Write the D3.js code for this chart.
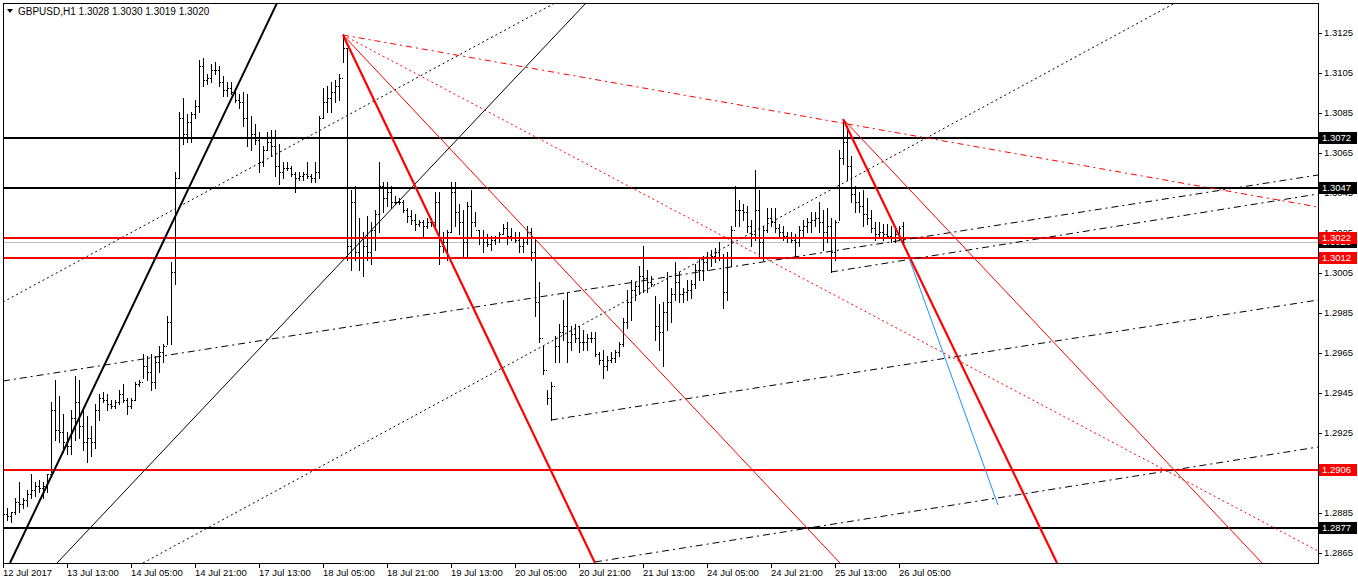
<!DOCTYPE html>
<html><head><meta charset="utf-8">
<script src="https://cdn.jsdelivr.net/npm/d3@7"></script>
<style>
body{margin:0;background:#fff;}
svg{display:block;}
text{font-family:"Liberation Sans",Arial,sans-serif;font-size:9.5px;fill:#000;}
</style>
</head><body>
<svg id="c" width="1358" height="584"></svg>
<script>
// ---------------- DATA ----------------
const symbol = "GBPUSD,H1";
// H1 bars, prices in 1e-4 units (e.g. 13028 = 1.3028)
const highs = [
12898,12887,12885,12892,12900,12892,12896,12904,12900,12901,
12900,12904,12940,12951,12943,12934,12925,12936,12953,12951,
12936,12933,12928,12939,12944,12945,12944,12941,12941,12946,
12949,12942,12942,12950,12951,12964,12963,12964,12963,12968,
12969,12983,13010,13055,13085,13092,13084,13085,13091,13111,
13112,13104,13109,13110,13108,13103,13100,13100,13097,13094,
13095,13094,13083,13079,13075,13068,13075,13076,13076,13069,
13060,13060,13058,13055,13055,13055,13060,13054,13060,13083,
13097,13098,13100,13101,13104,13124,13117,13046,13048,13032,
13025,13033,13030,13036,13060,13050,13050,13048,13043,13042,
13041,13037,13036,13034,13031,13031,13032,13032,13045,13045,
13025,13026,13050,13050,13039,13036,13040,13046,13035,13026,
13026,13024,13023,13023,13025,13029,13030,13027,13025,13025,
13022,13028,13027,13021,13000,12968,12946,12950,12973,12979,
12991,12995,12978,12979,12978,12976,12974,12975,12975,12965,
12966,12963,12965,12966,12970,12982,12996,13001,13000,13008,
13018,13006,13003,12993,12989,12990,13005,12997,13010,13005,
12997,13001,13001,13009,13012,13013,13015,13016,13017,13020,
13014,13015,13028,13048,13041,13039,13038,13031,13056,13046,
13028,13037,13037,13037,13029,13028,13025,13025,13024,13028,
13031,13032,13035,13035,13040,13036,13037,13032,13031,13066,
13081,13078,13063,13048,13045,13046,13042,13036,13030,13030,
13029,13029,13028,13028,13028,13030];
const lows = [
12877,12881,12880,12884,12885,12887,12888,12892,12893,12895,
12892,12895,12905,12921,12920,12915,12914,12914,12921,12922,
12916,12910,12913,12917,12931,12940,12936,12937,12937,12939,
12940,12934,12937,12941,12948,12952,12951,12946,12947,12955,
12960,12969,12969,12999,13052,13069,13070,13070,13082,13085,
13098,13099,13100,13104,13098,13093,13093,13094,13090,13087,
13078,13068,13066,13069,13055,13058,13066,13063,13053,13049,
13052,13056,13053,13045,13051,13051,13052,13050,13050,13052,
13082,13085,13085,13090,13091,13110,13011,13006,13011,13006,
13003,13011,13009,13016,13025,13035,13038,13037,13039,13039,
13035,13030,13029,13026,13028,13022,13027,13028,13027,13009,
13015,13011,13025,13028,13024,13013,13012,13022,13028,13019,
13015,13018,13016,13019,13020,13024,13019,13021,13020,13015,
13015,13019,13011,12983,12970,12954,12939,12931,12960,12960,
12971,12960,12966,12970,12965,12966,12966,12970,12963,12959,
12952,12956,12960,12960,12963,12968,12977,12981,12991,12994,
12995,12995,12998,12971,12966,12958,12976,12980,12991,12990,
12990,12991,12992,12997,13001,13001,13006,13008,13010,13011,
12987,12991,13008,13028,13028,13031,13025,13018,13021,13013,
13011,13025,13028,13025,13022,13021,13020,13020,13013,13018,
13023,13025,13025,13028,13025,13016,13020,13005,13011,13031,
13059,13051,13040,13035,13035,13028,13029,13025,13021,13022,
13021,13022,13020,13020,13021,13019];
const opens = [
12890,12884,12883,12885,12890,12889,12891,12894,12896,12898,
12897,12898,12904,12936,12926,12925,12920,12918,12932,12940,
12928,12920,12922,12920,12936,12942,12941,12939,12938,12940,
12944,12941,12938,12941,12949,12950,12958,12955,12950,12960,
12965,12968,12980,13005,13052,13082,13074,13080,13084,13088,
13108,13101,13102,13106,13106,13100,13096,13097,13095,13091,
13090,13082,13072,13074,13071,13060,13066,13070,13068,13058,
13055,13057,13057,13054,13052,13053,13054,13053,13052,13055,
13082,13090,13092,13095,13098,13102,13117,13018,13040,13015,
13012,13018,13015,13026,13034,13048,13042,13045,13040,13040,
13040,13036,13033,13031,13029,13030,13028,13030,13030,13040,
13018,13020,13025,13045,13035,13030,13020,13038,13030,13026,
13022,13020,13019,13021,13022,13024,13027,13023,13022,13021,
13018,13020,13025,13015,12990,12972,12956,12942,12948,12968,
12975,12978,12970,12974,12972,12970,12970,12972,12972,12964,
12961,12958,12961,12962,12965,12969,12980,12990,12996,12998,
13003,13002,13000,12999,12978,12975,12985,12990,12994,13000,
12994,12995,12996,12999,13006,13006,13010,13012,13013,13015,
13012,12995,13012,13026,13036,13036,13035,13028,13024,13036,
13020,13026,13032,13030,13027,13025,13023,13022,13021,13020,
13026,13028,13030,13031,13032,13030,13025,13028,13015,13030,
13062,13070,13058,13044,13040,13038,13034,13032,13027,13024,
13025,13024,13023,13022,13024,13028];
const closes = [
12884,12883,12885,12890,12889,12891,12894,12896,12898,12897,
12898,12904,12936,12926,12925,12920,12918,12932,12940,12928,
12920,12922,12920,12936,12942,12941,12939,12938,12940,12944,
12941,12938,12941,12949,12950,12958,12955,12950,12960,12965,
12968,12980,13005,13052,13082,13074,13080,13084,13088,13108,
13101,13102,13106,13106,13100,13096,13097,13095,13091,13090,
13082,13072,13074,13071,13060,13066,13070,13068,13058,13055,
13057,13057,13054,13052,13053,13054,13053,13052,13055,13082,
13090,13092,13095,13098,13102,13117,13018,13040,13015,13012,
13018,13015,13026,13034,13048,13042,13045,13040,13040,13040,
13036,13033,13031,13029,13030,13028,13030,13030,13040,13018,
13020,13025,13045,13035,13030,13020,13038,13030,13026,13022,
13020,13019,13021,13022,13024,13027,13023,13022,13021,13018,
13020,13025,13015,12990,12972,12956,12942,12948,12968,12975,
12978,12970,12974,12972,12970,12970,12972,12972,12964,12961,
12958,12961,12962,12965,12969,12980,12990,12996,12998,13003,
13002,13000,12999,12978,12975,12985,12990,12994,13000,12994,
12995,12996,12999,13006,13006,13010,13012,13013,13015,13012,
12995,13012,13026,13036,13036,13035,13028,13024,13036,13020,
13026,13032,13030,13027,13025,13023,13022,13021,13020,13026,
13028,13030,13031,13032,13030,13025,13028,13015,13030,13062,
13070,13058,13044,13040,13038,13034,13032,13027,13024,13025,
13024,13023,13022,13024,13027,13020];

const xTickLabels = ["12 Jul 2017","13 Jul 13:00","14 Jul 05:00","14 Jul 21:00","17 Jul 13:00",
  "18 Jul 05:00","18 Jul 21:00","19 Jul 13:00","20 Jul 05:00","20 Jul 21:00","21 Jul 13:00",
  "24 Jul 05:00","24 Jul 21:00","25 Jul 13:00","26 Jul 05:00"];
const xTickBars = [0,16,32,48,64,80,96,112,128,144,160,176,192,208,224];
const yTickValues = [1.2865,1.2885,1.2905,1.2925,1.2945,1.2965,1.2985,1.3005,1.3025,1.3045,1.3065,1.3085,1.3105,1.3125];

// horizontal levels
const blackLevels = [1.3072, 1.3047, 1.2877];
const redLevels = [1.3022, 1.3012, 1.2906];
const bidPrice = 1.3020;

// trend lines: [bar1, price1, bar2, price2]
const lineThickBlack = [1.75, 1.28595, 68.5, 1.31395];
const lineThinBlack  = [13.5, 1.28595, 145.75, 1.31395];
const dottedBlack = [[0, 1.2990, 138, 1.31395],[35, 1.28595, 293, 1.31395]];
const dashDotBlack = [[0, 1.29505, 328.75, 1.30535],[137, 1.2931, 328.75, 1.2991],
                      [148, 1.2860, 328.75, 1.29175],[207, 1.3005, 328.75, 1.3044]];
const redDashDot = [85, 1.31235, 328.75, 1.30375];
const redDotted  = [85, 1.31235, 328.75, 1.28655];
const redThick = [[85, 1.31235, 148, 1.28595],[210, 1.30815, 263.5, 1.28595]];
const redThin  = [[85, 1.31235, 209.25, 1.28595],[210, 1.30815, 314.75, 1.28595]];
const blueLine = [226.5, 1.3012, 248.75, 1.28885];

// ---------------- CHART ----------------
const svg = d3.select("#c");
const L = 3, R = 1318, T = 3, B = 563;
const x = d3.scaleLinear().domain([0, 328.75]).range([L, R]);
const y = d3.scaleLinear().domain([1.28595, 1.31395]).range([B, T]);
const P = v => v / 10000;

svg.append("rect").attr("width",1358).attr("height",584).attr("fill","#fff");
svg.append("defs").append("clipPath").attr("id","clip")
  .append("rect").attr("x",L+1).attr("y",T+1).attr("width",R-L-1).attr("height",B-T-1);

const plot = svg.append("g").attr("clip-path","url(#clip)");

// bid line
plot.append("line").attr("x1",L).attr("x2",R)
  .attr("y1",Math.round(y(bidPrice))+0.5).attr("y2",Math.round(y(bidPrice))+0.5)
  .attr("stroke","#c0c0c0").attr("stroke-width",1);

// bars
const barsG = plot.append("g").attr("fill","#000").attr("shape-rendering","crispEdges");
highs.forEach((h,i)=>{
  const xi = Math.round(x(i));
  const yh = Math.round(y(P(h))), yl = Math.round(y(P(lows[i])));
  barsG.append("rect").attr("x",xi).attr("y",yh).attr("width",1).attr("height",Math.max(1,yl-yh+1));
  barsG.append("rect").attr("x",xi-1).attr("y",Math.round(y(P(opens[i])))).attr("width",1).attr("height",1);
  barsG.append("rect").attr("x",xi+1).attr("y",Math.round(y(P(closes[i])))).attr("width",1).attr("height",1);
});

// horizontal levels
function hline(p, color, w){
  const yy = Math.round(y(p));
  plot.append("line").attr("x1",L).attr("x2",R).attr("y1",yy).attr("y2",yy)
    .attr("stroke",color).attr("stroke-width",w).attr("shape-rendering","crispEdges");
}
redLevels.forEach(p=>hline(p,"#ff0000",2));
blackLevels.forEach(p=>hline(p,"#000",2));

// trend lines
function seg(a, color, w, dash){
  const l = plot.append("line")
    .attr("x1",x(a[0])).attr("y1",y(a[1])).attr("x2",x(a[2])).attr("y2",y(a[3]))
    .attr("stroke",color).attr("stroke-width",w);
  if (dash) l.attr("stroke-dasharray",dash);
}
dottedBlack.forEach(a=>seg(a,"#000",1,"2,3"));
dashDotBlack.forEach(a=>seg(a,"#000",1,"7,4,2,4"));
seg(lineThinBlack,"#000",1);
seg(lineThickBlack,"#000",2);
seg(redDashDot,"#ff0000",1,"6,4,2,4");
seg(redDotted,"#ff0000",1,"2,3");
redThin.forEach(a=>seg(a,"#ff0000",1));
redThick.forEach(a=>seg(a,"#ff0000",2.2));
seg(blueLine,"#1e90ff",1);

// frame
svg.append("rect").attr("x",L+0.5).attr("y",T+0.5).attr("width",R-L).attr("height",B-T)
  .attr("fill","none").attr("stroke","#000").attr("stroke-width",1).attr("shape-rendering","crispEdges");

// y axis
const yAx = svg.append("g");
yTickValues.forEach(v=>{
  const yy = Math.round(y(v))+1;
  yAx.append("line").attr("x1",R).attr("x2",R+4).attr("y1",yy+0.5).attr("y2",yy+0.5)
    .attr("stroke","#000").attr("shape-rendering","crispEdges");
  yAx.append("text").attr("x",R+6).attr("y",yy).attr("dy","0.36em").text(v.toFixed(4));
});

// x axis
const xAx = svg.append("g");
xTickBars.forEach((b,k)=>{
  const xx = Math.round(x(b));
  xAx.append("line").attr("x1",xx+0.5).attr("x2",xx+0.5).attr("y1",B).attr("y2",B+5)
    .attr("stroke","#000").attr("shape-rendering","crispEdges");
  xAx.append("text").attr("x",xx).attr("y",B+13).text(xTickLabels[k]);
});

// price labels on axis
function priceLabel(p, bg){
  const yy = Math.round(y(p));
  svg.append("rect").attr("x",R+1).attr("y",yy-6).attr("width",38).attr("height",12).attr("fill",bg);
  svg.append("text").attr("x",R+4).attr("y",yy).attr("dy","0.36em").style("fill","#fff").text(p.toFixed(4));
}
priceLabel(bidPrice,"#000");
blackLevels.forEach(p=>priceLabel(p,"#000"));
redLevels.forEach(p=>priceLabel(p,"#ff0000"));

// header
svg.append("path").attr("d","M7,9 L13,9 L10,13 Z").attr("fill","#000");
const last = highs.length-1;
svg.append("text").attr("x",18).attr("y",15).style("font-size","10px")
  .text(symbol + "  " + [opens[last],highs[last],lows[last],closes[last]].map(v=>P(v).toFixed(4)).join(" "));
</script>
</body></html>
